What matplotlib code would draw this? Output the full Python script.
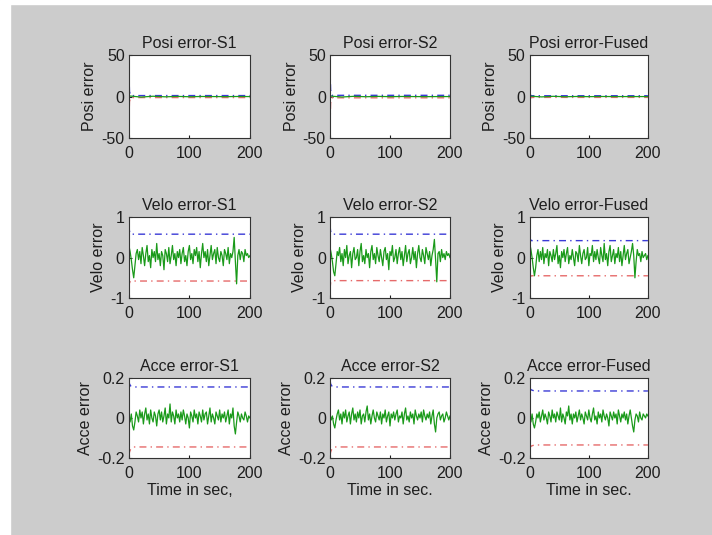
import numpy as np
import matplotlib
matplotlib.use("Agg")
import matplotlib.pyplot as plt

plt.rcParams["font.family"] = ["Liberation Sans", "DejaVu Sans"]

# sample spacing of the error series (seconds)
STEP = 2

# ---- position error (near zero on a +-50 scale) ----
posi_s1 = [0.8, -0.6, 0.4, -0.3, 0.2, -0.2, 0.1, 0.0, -0.1, 0.1, 0.0]
posi_s2 = [0.6, -0.5, 0.3, -0.2, 0.2, -0.1, 0.1, 0.0, -0.1, 0.0, 0.0]
posi_fu = [0.5, -0.4, 0.3, -0.2, 0.1, -0.1, 0.1, 0.0, 0.0, 0.0, 0.0]

# ---- velocity error ----
velo_s1 = [0.30, 0.15, -0.05, -0.30, -0.50, -0.20, 0.10, 0.20, -0.05, 0.15,
           -0.15, 0.25, 0.05, -0.20, 0.10, 0.30, -0.10, 0.05, -0.25, 0.20,
           0.00, 0.15, -0.10, 0.35, -0.05, 0.10, -0.20, 0.15, 0.05, -0.30,
           0.20, 0.10, -0.10, 0.25, -0.15, 0.05, 0.30, -0.05, 0.10, -0.20,
           0.15, 0.00, 0.20, -0.15, 0.10, 0.25, -0.10, 0.05, -0.20, 0.15,
           0.30, -0.05, 0.10, -0.15, 0.20, 0.05, 0.25, -0.10, 0.15, -0.25,
           0.10, 0.35, 0.00, 0.15, -0.10, 0.20, -0.20, 0.05, 0.30, -0.05,
           0.10, 0.20, -0.15, 0.25, 0.00, -0.10, 0.15, 0.05, -0.20, 0.20,
           0.10, -0.05, 0.25, -0.15, 0.10, 0.00, 0.15, 0.50, -0.10, -0.65,
           0.05, 0.20, -0.05, 0.15, 0.10, -0.10, 0.20, 0.05, 0.10, 0.00, 0.05]
velo_s2 = [0.25, 0.10, -0.10, -0.35, -0.45, -0.15, 0.15, 0.05, 0.25, -0.10,
           0.10, -0.20, 0.20, 0.00, 0.30, -0.15, 0.05, 0.15, -0.25, 0.10,
           0.25, -0.05, 0.00, 0.20, -0.20, 0.15, 0.35, -0.10, 0.05, -0.15,
           0.20, 0.00, 0.10, -0.25, 0.15, 0.30, -0.05, 0.10, -0.15, 0.25,
           0.05, -0.10, 0.20, 0.00, -0.20, 0.15, 0.25, -0.05, 0.10, -0.30,
           0.15, 0.05, 0.30, -0.10, 0.00, 0.20, -0.15, 0.10, 0.25, -0.05,
           0.15, -0.20, 0.05, 0.30, -0.10, 0.10, 0.20, -0.15, 0.00, 0.25,
           -0.05, 0.15, -0.25, 0.10, 0.30, 0.00, -0.10, 0.20, 0.05, -0.15,
           0.25, 0.10, -0.05, 0.15, -0.20, 0.05, 0.20, 0.45, -0.05, -0.60,
           0.10, 0.15, -0.10, 0.20, 0.00, 0.10, -0.05, 0.15, 0.05, 0.10, 0.00]
velo_fu = [0.35, 0.20, 0.00, -0.25, -0.45, -0.25, 0.05, 0.20, -0.10, 0.15,
           -0.05, 0.25, -0.15, 0.10, 0.00, 0.20, -0.20, 0.15, 0.05, -0.10,
           0.20, -0.05, 0.10, 0.30, -0.15, 0.05, -0.25, 0.15, 0.00, 0.20,
           -0.10, 0.10, 0.25, -0.15, 0.05, -0.05, 0.20, 0.00, -0.20, 0.15,
           0.10, -0.10, 0.30, 0.05, -0.15, 0.10, 0.20, -0.05, 0.00, 0.25,
           -0.20, 0.10, 0.05, 0.30, -0.10, 0.15, -0.05, 0.20, 0.00, -0.15,
           0.25, 0.05, -0.10, 0.35, -0.05, 0.10, -0.20, 0.15, 0.30, -0.10,
           0.05, 0.20, -0.15, 0.10, 0.00, 0.25, -0.10, 0.15, -0.20, 0.05,
           0.30, -0.05, 0.10, 0.20, -0.15, 0.00, 0.15, 0.35, 0.05, -0.50,
           -0.10, 0.20, 0.05, 0.10, -0.10, 0.15, 0.00, 0.05, 0.10, -0.05, 0.05]

# ---- acceleration error ----
acce_s1 = [0.00, -0.02, 0.02, -0.04, -0.06, -0.02, 0.03, 0.01, -0.02, 0.04,
           0.00, 0.03, -0.03, 0.02, 0.05, -0.01, 0.02, -0.03, 0.04, 0.00,
           -0.02, 0.03, 0.01, -0.04, 0.02, 0.04, -0.01, 0.03, -0.02, 0.01,
           0.05, -0.03, 0.02, 0.00, 0.07, -0.02, 0.03, 0.01, -0.03, 0.04,
           0.00, 0.02, -0.02, 0.03, -0.01, 0.04, 0.01, -0.03, 0.02, 0.00,
           -0.05, 0.03, 0.01, -0.02, 0.04, 0.00, 0.02, -0.03, 0.03, 0.01,
           -0.02, 0.04, -0.01, 0.02, 0.03, -0.03, 0.01, 0.05, -0.02, 0.02,
           0.00, -0.03, 0.03, 0.01, -0.01, 0.04, -0.02, 0.02, 0.00, 0.03,
           -0.02, 0.01, 0.04, -0.03, 0.02, 0.00, 0.05, -0.04, -0.08, -0.02,
           0.03, 0.01, -0.02, 0.02, 0.00, -0.01, 0.03, 0.01, -0.02, 0.01, 0.00]
acce_s2 = [0.02, -0.01, 0.01, -0.03, -0.05, -0.01, 0.02, 0.04, -0.01, 0.02,
           -0.03, 0.03, 0.00, 0.04, -0.02, 0.01, 0.03, -0.03, 0.02, 0.05,
           -0.01, 0.02, -0.02, 0.03, 0.00, 0.04, -0.03, 0.01, 0.02, -0.02,
           0.03, 0.06, -0.01, 0.02, -0.03, 0.01, 0.04, 0.00, -0.02, 0.03,
           0.01, -0.01, 0.03, -0.03, 0.02, 0.00, 0.04, -0.02, 0.01, 0.03,
           -0.04, 0.02, 0.00, 0.03, -0.01, 0.02, 0.04, -0.02, 0.01, 0.00,
           0.03, -0.03, 0.02, 0.05, -0.01, 0.01, -0.02, 0.03, 0.00, 0.02,
           -0.03, 0.04, 0.01, -0.01, 0.02, 0.00, 0.03, -0.02, 0.04, 0.01,
           -0.01, 0.02, 0.00, 0.03, -0.03, 0.01, 0.04, -0.03, -0.07, 0.00,
           0.02, 0.03, -0.01, 0.01, 0.02, -0.02, 0.00, 0.03, 0.01, -0.01, 0.01]
acce_fu = [0.01, -0.02, 0.02, -0.03, -0.05, -0.02, 0.02, 0.00, 0.03, -0.02,
           0.01, 0.04, -0.01, 0.02, 0.00, -0.03, 0.03, 0.01, -0.02, 0.04,
           0.00, 0.02, -0.02, 0.03, 0.01, -0.01, 0.05, -0.02, 0.02, 0.00,
           -0.03, 0.03, 0.01, 0.06, -0.01, 0.02, -0.03, 0.02, 0.00, 0.03,
           -0.02, 0.01, 0.04, -0.01, 0.02, 0.00, -0.03, 0.03, 0.01, -0.01,
           0.04, 0.00, -0.02, 0.02, 0.05, -0.01, 0.01, -0.03, 0.03, 0.00,
           0.02, -0.02, 0.04, 0.01, -0.01, 0.02, 0.00, -0.04, 0.03, 0.01,
           -0.01, 0.03, 0.00, 0.02, -0.03, 0.04, 0.01, -0.02, 0.02, 0.00,
           0.03, -0.01, 0.02, -0.03, 0.01, 0.04, 0.00, -0.04, -0.07, -0.01,
           0.02, 0.01, -0.02, 0.03, 0.00, -0.01, 0.02, 0.01, 0.00, 0.02, 0.01]

# ---- 3-sigma bounds: breakpoints (time, value) ----
bound_t = [0, 1, 3, 200]
posi_up = {"S1": [32, 6, 1.2, 1.2], "S2": [35, 8, 1.5, 1.5], "Fused": [5, 2, 1.0, 1.0]}
posi_lo = {"S1": [-32, -6, -1.2, -1.2], "S2": [-35, -8, -1.5, -1.5], "Fused": [-5, -2, -1.0, -1.0]}
velo_up = {"S1": [0.80, 0.65, 0.58, 0.58], "S2": [0.80, 0.65, 0.58, 0.58], "Fused": [0.55, 0.45, 0.42, 0.42]}
velo_lo = {"S1": [-0.75, -0.62, -0.58, -0.58], "S2": [-0.78, -0.62, -0.57, -0.57], "Fused": [-0.55, -0.47, -0.45, -0.45]}
acce_bt = [0, 1, 3, 8, 200]
acce_up = {"S1": [0.19, 0.17, 0.16, 0.155, 0.155], "S2": [0.19, 0.17, 0.16, 0.155, 0.155], "Fused": [0.16, 0.145, 0.14, 0.135, 0.135]}
acce_lo = {"S1": [-0.19, -0.17, -0.155, -0.145, -0.145], "S2": [-0.19, -0.17, -0.155, -0.145, -0.145], "Fused": [-0.16, -0.145, -0.14, -0.135, -0.135]}

sources = ["S1", "S2", "Fused"]
rows = [
    ("Posi", [posi_s1, posi_s2, posi_fu], bound_t, posi_up, posi_lo, 20, [-50, 0, 50], ["-50", "0", "50"]),
    ("Velo", [velo_s1, velo_s2, velo_fu], bound_t, velo_up, velo_lo, STEP, [-1, 0, 1], ["-1", "0", "1"]),
    ("Acce", [acce_s1, acce_s2, acce_fu], acce_bt, acce_up, acce_lo, STEP, [-0.2, 0, 0.2], ["-0.2", "0", "0.2"]),
]
xlabels = ["Time in sec,", "Time in sec.", "Time in sec."]

fig = plt.figure(figsize=(7.12, 5.35), dpi=100, facecolor="#cccccc")
# white strip at left/top edge of the screenshot
fig.patches.append(plt.Rectangle((0, 0), 10 / 712, 1, transform=fig.transFigure, color="white", zorder=-1))
fig.patches.append(plt.Rectangle((0, 1 - 4 / 535), 1, 4 / 535, transform=fig.transFigure, color="white", zorder=-1))

lefts = [0.181, 0.4635, 0.744]
widths = [0.170, 0.1685, 0.166]
bottoms = [0.742, 0.443, 0.144]
heights = [0.155, 0.151, 0.1495]

dash = (0, (5, 3, 1, 3))
fs = 11.5
tc = "#1e1e1e"

for r, (name, series, bt, up, lo, step, yt, ytl) in enumerate(rows):
    for c, src in enumerate(sources):
        ax = fig.add_axes([lefts[c], bottoms[r], widths[c], heights[r]])
        y = series[c]
        t = np.arange(len(y)) * step
        ax.plot(bt, up[src], color="#3a3ad6", lw=1.0, linestyle=dash)
        ax.plot(bt, lo[src], color="#e66a6a", lw=1.0, linestyle=dash)
        ax.plot(t, y, color="#1a9a1a", lw=0.9)
        ax.set_xlim(0, 200)
        ax.set_ylim(yt[0], yt[-1])
        ax.set_xticks([0, 100, 200])
        ax.set_yticks(yt)
        ax.set_yticklabels(ytl)
        ax.tick_params(direction="in", length=2.5, labelsize=fs, pad=3, colors=tc)
        ax.tick_params(axis="x", pad=6)
        for s in ax.spines.values():
            s.set_color("#333333")
            s.set_linewidth(0.8)
        ax.set_title(f"{name} error-{src}", fontsize=fs, color=tc, pad=5)
        ax.set_ylabel(f"{name} error", fontsize=fs, color=tc, labelpad=3)
        if r == 2:
            ax.set_xlabel(xlabels[c], fontsize=fs, color=tc, labelpad=1)

fig.savefig("out.png", dpi=100, facecolor=fig.get_facecolor())
